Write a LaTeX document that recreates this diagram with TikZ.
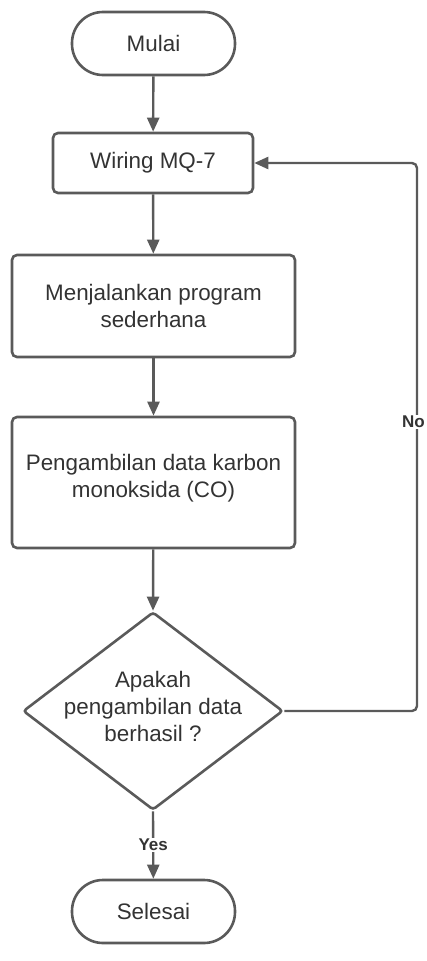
\documentclass[tikz,border=0pt]{standalone}
\usepackage{fontspec}
\setmainfont{Liberation Sans}
\usetikzlibrary{shapes.geometric,arrows.meta}
\definecolor{edge}{HTML}{5A5A5A}
\definecolor{ink}{HTML}{333333}
\tikzset{
  base/.style={draw=edge, line width=2.6pt, text=ink, inner sep=0pt, align=center,
    font=\fontsize{22.4}{27}\selectfont},
  terminal/.style={base, rounded corners=31pt, minimum width=163pt, minimum height=63pt},
  process/.style={base, rounded corners=5pt},
  decision/.style={base, diamond, rounded corners=3pt, minimum width=260pt, minimum height=198pt},
  flow/.style={draw=edge, line width=2.4pt, -{Triangle[length=14pt,width=12pt]}},
  branch/.style={fill=white, text=ink, inner sep=1.5pt, font=\bfseries\fontsize{17}{20}\selectfont}
}
\begin{document}
\begin{tikzpicture}[x=1pt, y=-1pt]
  \useasboundingbox (0,0) rectangle (426,961);

  \node[terminal] (start) at (153.5,43.5) {Mulai};
  \node[process, minimum width=200pt, minimum height=60pt] (wiring) at (153,163) {Wiring MQ-7};
  \node[process, minimum width=283pt, minimum height=102pt] (run) at (153.5,306)
    {Menjalankan program\\sederhana};
  \node[process, minimum width=283pt, minimum height=131pt] (take) at (153.5,482.5) {};
  \node[text=ink, align=center, font=\fontsize{22.4}{27}\selectfont] (taketext) at (153.5,478)
    {Pengambilan data karbon\\monoksida (CO)};
  \node[decision] (check) at (153,711) {};
  \node[text=ink, align=center, font=\fontsize{22.4}{27}\selectfont] (checktext) at (153,706)
    {Apakah\\pengambilan data\\berhasil ?};
  \node[terminal] (stop) at (153.5,911.5) {Selesai};

  \coordinate (loopdown) at (417,711);
  \coordinate (loopup) at (417,163);

  \draw[flow] (start) -- (wiring);
  \draw[flow] (wiring) -- (run);
  \draw[flow] (run) -- (take);
  \draw[flow] (take) -- (check.north);
  \draw[flow] (check.south) -- node[branch] (yes) {Yes} (stop);
  \draw[flow, rounded corners=5pt] (check.east) -- (loopdown) -- (loopup) -- (wiring.east);
  \node[branch] (no) at (413.5,422) {No};
\end{tikzpicture}
\end{document}
